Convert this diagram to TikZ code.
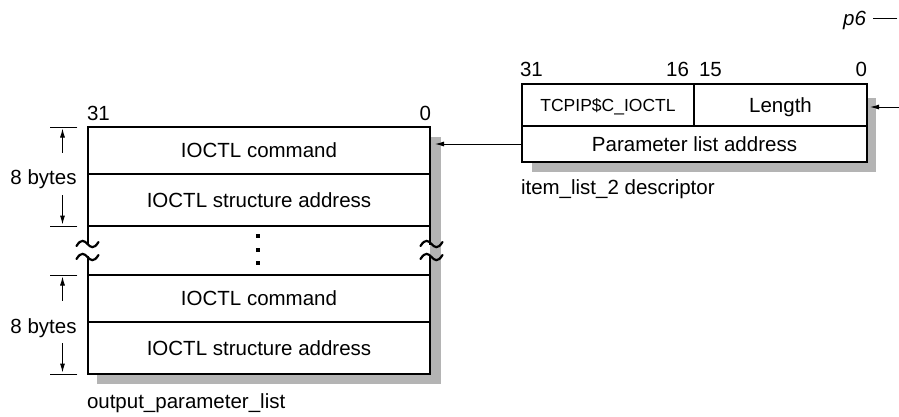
\documentclass[tikz,border=0pt]{standalone}
\usepackage{fontspec}
\setmainfont{Liberation Sans}
\usetikzlibrary{arrows.meta}

\begin{document}
\begin{tikzpicture}[x=1pt,y=-1pt,line cap=rect,
		txt/.style={inner sep=0, outer sep=0, font=\fontsize{20.5pt}{20.5pt}\selectfont},
		cell/.style={txt, text height=14.7pt, text depth=0pt},
		frame/.style={line width=2.6pt, black},
		rule/.style={line width=1.1pt, black},
		dim/.style={line width=0.9pt, black},
		wave/.style={line width=2.2pt, line cap=round},
		ptr/.style={line width=1pt, -{Latex[length=9pt,width=5pt]}}]
					\definecolor{shadowgray}{RGB}{180,180,180}
					\def\squiggle#1#2{\draw[wave] (#1-11,#2+2) .. controls (#1-6,#2-6) and (#1-3,#2-3) .. (#1,#2) .. controls (#1+3,#2+3) and (#1+6,#2+6) .. (#1+11,#2-2);}
					\useasboundingbox (0,0) rectangle (899,416);
					% shadows
					\fill [shadowgray] (97,137) rectangle (441,384);
					\fill [shadowgray] (532,98) rectangle (876,172);
					\fill [white] (522,84) rectangle (867,162);
					\fill [white] (88,127) rectangle (430,374);
					% item_list_2 descriptor
					\node[cell, minimum width=172pt, minimum height=42pt, text height=12.5pt, font=\fontsize{17.5pt}{17.5pt}\selectfont] (tcp) at (608,105) {TCPIP\$C\_IOCTL};
					\node[cell, minimum width=173pt, minimum height=42pt] (len) at (780.5,105) {Length};
					\node[cell, minimum width=345pt, minimum height=36pt] (plist) at (694.5,144) {Parameter list address};
					\draw [rule] (plist.north west) -- (plist.north east);
					\draw [rule] (tcp.north east) -- (tcp.south east);
					\draw [frame] (tcp.north west) rectangle (plist.south east);
					\node[txt, anchor=base west] (bitD31) at (520,76) {31};
					\node[txt, anchor=base east] (bitD16) at (689,76) {16};
					\node[txt, anchor=base west] (bitD15) at (699,76) {15};
					\node[txt, anchor=base east] (bitD0) at (867,76) {0};
					\node[txt, anchor=base west] (desccap) at (521,194) {item\_list\_2 descriptor};
					% output_parameter_list
					\node[cell, minimum width=342pt, minimum height=47pt] (cmdA) at (259,150.5) {IOCTL command};
					\node[cell, minimum width=342pt, minimum height=52pt] (addrA) at (259,200) {IOCTL structure address};
					\node[cell, minimum width=342pt, minimum height=47pt] (cmdB) at (259,298.5) {IOCTL command};
					\node[cell, minimum width=342pt, minimum height=52pt] (addrB) at (259,348) {IOCTL structure address};
					\draw [rule] (addrA.north west) -- (addrA.north east);
					\draw [rule] (addrA.south west) -- (addrA.south east);
					\draw [rule] (cmdB.north west) -- (cmdB.north east);
					\draw [rule] (addrB.north west) -- (addrB.north east);
					\draw [frame] (cmdA.north west |- 0,244) -- (cmdA.north west) -- (cmdA.north east) -- (cmdA.north east |- 0,244);
					\draw [frame] (addrB.south west |- 0,257) -- (addrB.south west) -- (addrB.south east) -- (addrB.south east |- 0,257);
					\squiggle{87.5}{244}
					\squiggle{87.5}{257}
					\squiggle{431.5}{244}
					\squiggle{431.5}{257}
					\fill (256,234) rectangle (260,238);
					\fill (256,247.5) rectangle (260,251.5);
					\fill (256,260.5) rectangle (260,264.5);
					\node[txt, anchor=base west] (bitL31) at (87,120) {31};
					\node[txt, anchor=base east] (bitL0) at (431,120) {0};
					\node[txt, anchor=base west] (listcap) at (87,408) {output\_parameter\_list};
					% 8 bytes
					\draw [dim] (50,127) -- (77,127);
					\draw [dim] (50,226) -- (77,226);
					\draw [dim] (50,275) -- (77,275);
					\draw [dim] (50,374) -- (77,374);
					\node[cell] (bytesA) at (43.5,177) {8 bytes};
					\node[cell] (bytesB) at (43.5,326) {8 bytes};
					\draw [ptr] (62.5,152) -- (62.5,128.5);
					\draw [ptr] (62.5,195) -- (62.5,224.5);
					\draw [ptr] (62.5,300) -- (62.5,276.5);
					\draw [ptr] (62.5,343) -- (62.5,372.5);
					% pointers
					\coordinate (listtip) at (435,144);
					\draw [ptr] (plist.west) -- (plist.west -| listtip);
					\coordinate (descfrom) at (899,107);
					\draw [ptr] (descfrom) -- ([xshift=3pt]len.east |- descfrom);
					\node[txt, anchor=base east, font=\fontsize{20.5pt}{20.5pt}\itshape\selectfont] (pref) at (866,25) {p6};
					\coordinate (prefend) at (897,18.5);
					\draw [dim] ([xshift=7pt]pref.east |- prefend) -- (prefend);
				\end{tikzpicture}
\end{document}
